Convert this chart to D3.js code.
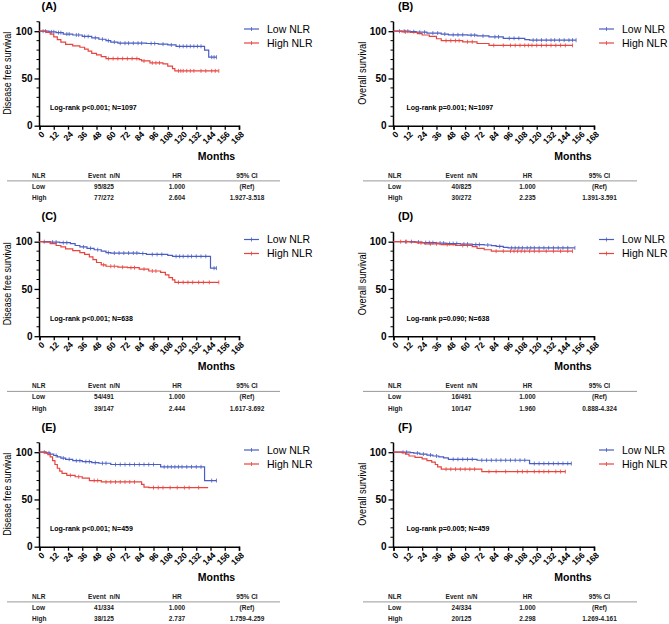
<!DOCTYPE html>
<html><head><meta charset="utf-8">
<script src="https://cdn.jsdelivr.net/npm/d3@7"></script>
<style>body{margin:0;background:#fff}svg{display:block}text{font-family:"Liberation Sans",Arial,sans-serif}</style>
</head><body><svg id="c" width="669" height="624"></svg>
<script>
// ---------- data ----------
const monthTicks = [0,12,24,36,48,60,72,84,96,108,120,132,144,156,168];
const yTicks = [0,50,100];
const seriesNames = ["Low NLR","High NLR"];
const panelLabels = ["(A)","(B)","(C)","(D)","(E)","(F)"];
const yTitles = ["Disease free survival","Overall survival","Disease free survival","Overall survival","Disease free survival","Overall survival"];
const logRank = ["Log-rank p<0.001; N=1097","Log-rank p=0.001; N=1097","Log-rank p<0.001; N=638","Log-rank p=0.090; N=638","Log-rank p<0.001; N=459","Log-rank p=0.005; N=459"];
const tableHeader = ["NLR","Event  n/N","HR","95% CI"];
const tableA = [["Low","95/825","1.000","(Ref)"],["High","77/272","2.604","1.927-3.518"]];
const tableB = [["Low","40/825","1.000","(Ref)"],["High","30/272","2.235","1.391-3.591"]];
const tableC = [["Low","54/491","1.000","(Ref)"],["High","39/147","2.444","1.617-3.692"]];
const tableD = [["Low","16/491","1.000","(Ref)"],["High","10/147","1.960","0.888-4.324"]];
const tableE = [["Low","41/334","1.000","(Ref)"],["High","38/125","2.737","1.759-4.259"]];
const tableF = [["Low","24/334","1.000","(Ref)"],["High","20/125","2.298","1.269-4.161"]];

// step curves: event times (months) and survival (%) after each step, plus end time and censor times
const lowA_t = [0,8,14,20,28,36,44,50,56,60,66,90,100,108,115,139,142.5];
const lowA_s = [100,99.3,98.5,97,96,94.5,93,91.5,90,88.5,87.3,87,86.3,85.5,84,80,72.5];
const lowA_end = 149;
const lowA_c = [3,5,10,12,16,18,23,25,31,33,38,41,47,53,58,63,68,72,75,79,83,86,94,97,104,111,118,121,124,127,130,133,136,145,147,149];
const highA_t = [0,6,9,12,15,18,22,28,34,38,41,44,48,52,56,84,86,93,104,108,112,114];
const highA_s = [100,98.6,97,94,91,88.5,86,84.5,83,81,79,76.5,75,73,71,70,68.5,66.5,65.5,63,60.5,58];
const highA_end = 151;
const highA_c = [58,62,66,70,74,78,82,88,95,98,101,117,119,121,124,127,130,136,140,145,148,151];

const lowB_t = [0,14,19,28,40,46,62,70,80,92,110,114];
const lowB_s = [100,99.5,99,98,97,96.2,95.8,95,94,92.5,91,90.5];
const lowB_end = 153;
const lowB_c = [5,9,12,17,22,26,33,37,43,50,54,58,65,68,75,85,88,97,101,105,117,120,124,128,132,135,139,143,147,150,153];
const highB_t = [0,7,14,20,24,30,36,40,58,70,80];
const highB_s = [100,99.3,98.6,97.5,96,94.5,92,90,88.8,87,85];
const highB_end = 150;
const highB_c = [10,44,48,52,55,62,66,84,92,98,102,106,110,113,116,120,124,128,132,136,140,144,150];

const lowC_t = [0,9,17,26,30,34,40,46,52,56,60,84,90,108,112,144];
const lowC_s = [100,99.6,99,98,96,94.5,93,91.5,90,88.5,88,87.5,86.5,85.5,84.5,72];
const lowC_end = 149;
const lowC_c = [4,11,14,20,23,37,43,49,58,63,67,71,75,79,82,87,95,99,103,115,118,121,125,128,132,136,140,147,149];
const highC_t = [0,3,9,14,18,22,28,34,38,42,45,48,52,56,66,74,84,92,102,106,109,112,114];
const highC_s = [100,99.5,98,96,94.5,92.5,90.5,88.5,86.5,84,81,78,75.5,74,73,72.5,71,69,67.5,65,62,59.5,57];
const highC_end = 151;
const highC_c = [54,60,63,70,77,80,88,95,98,117,121,125,129,134,138,143,151];

const lowD_t = [0,18,24,36,44,56,66,76,82,86,92,96];
const lowD_s = [100,99.6,99,98.5,98,97.5,97,96.5,95.8,95,94,93.5];
const lowD_end = 152;
const lowD_c = [10,15,21,27,30,33,39,42,47,50,53,59,62,69,72,79,89,99,102,105,108,112,115,118,122,126,130,134,138,142,146,152];
const highD_t = [0,14,20,26,40,52,66,70,76,82];
const highD_s = [100,99.5,98.8,97.8,97,96,94.8,93,91.5,90];
const highD_end = 150;
const highD_c = [6,11,23,31,36,45,58,62,86,92,98,101,104,107,110,114,118,122,128,134,140,146,150];

const lowE_t = [0,6,9,12,15,18,22,28,36,44,50,60,102,139];
const lowE_s = [100,99.3,98,96.5,95,93.8,92.5,91,90,89,88.3,87,84.5,70];
const lowE_end = 149;
const lowE_c = [4,8,14,20,25,31,34,39,42,47,53,56,64,68,72,76,80,84,88,92,96,105,108,111,114,117,120,124,128,132,136,145,149];
const highE_t = [0,5,7,9,11,13,15,17,19,23,30,36,42,52,86,88,92];
const highE_s = [100,99,97.5,95,91,87,83,80,77.5,75.5,74,72.5,70,68.5,66,63,62.5];
const highE_end = 142;
const highE_c = [26,33,46,49,56,60,64,68,72,76,80,96,100,104,110,116,122,126,134];

const lowF_t = [0,14,17,22,28,33,38,42,46,70,114];
const lowF_s = [100,99.5,99,98,97,96,95,94,92.5,91.5,88];
const lowF_end = 149;
const lowF_c = [8,11,20,25,31,36,50,54,58,62,66,74,78,82,86,90,94,98,102,106,110,118,122,126,130,134,138,142,146,149];
const highF_t = [0,7,10,13,18,24,28,32,35,37,40,74];
const highF_s = [100,99.5,98,96,94.5,93,91,89.5,87,84.5,82,79.5];
const highF_end = 144;
const highF_c = [44,48,52,56,60,64,68,80,86,94,104,108,112,118,122,126,130,136,140,144];

// ---------- layout ----------
const colX = [[39.5,239],[393.5,594]];
const rowY0 = [125.7,336.2,546.7];
const plotH100 = 94.5;
const cols = [
  {nlr:32, ev:104, hr:177, ci:247, l1:7, l2:280, ytitle:7.5, label:41.5, lr:50, months:216.5},
  {nlr:388, ev:461.5, hr:527.5, ci:599.5, l1:363, l2:637, ytitle:362, label:398, lr:406.5, months:573}
];
const BLUE = "#4a5dc4", RED = "#e8443e";

const panels = [
  {low:[lowA_t,lowA_s,lowA_end,lowA_c], high:[highA_t,highA_s,highA_end,highA_c], table:tableA},
  {low:[lowB_t,lowB_s,lowB_end,lowB_c], high:[highB_t,highB_s,highB_end,highB_c], table:tableB},
  {low:[lowC_t,lowC_s,lowC_end,lowC_c], high:[highC_t,highC_s,highC_end,highC_c], table:tableC},
  {low:[lowD_t,lowD_s,lowD_end,lowD_c], high:[highD_t,highD_s,highD_end,highD_c], table:tableD},
  {low:[lowE_t,lowE_s,lowE_end,lowE_c], high:[highE_t,highE_s,highE_end,highE_c], table:tableE},
  {low:[lowF_t,lowF_s,lowF_end,lowF_c], high:[highF_t,highF_s,highF_end,highF_c], table:tableF}
];

const svg = d3.select("#c");
svg.append("rect").attr("width",669).attr("height",624).attr("fill","#fff");

function stepVal(t, times, surv){
  let v = surv[0];
  for(let i=0;i<times.length;i++){ if(times[i] <= t) v = surv[i]; }
  return v;
}

panels.forEach((p, idx) => {
  const ci = idx % 2, ri = Math.floor(idx/2);
  const c = cols[ci];
  const y0 = rowY0[ri];
  const x = d3.scaleLinear().domain([0,168]).range(colX[ci]);
  const y = d3.scaleLinear().domain([0,100]).range([y0, y0 - plotH100]);
  const g = svg.append("g");

  // y axis
  const yAx = g.append("g").attr("transform",`translate(${colX[ci][0]},0)`)
    .call(d3.axisLeft(y).tickValues(yTicks).tickSize(5).tickPadding(2).tickFormat(d3.format("d")));
  yAx.select(".domain").remove();
  yAx.selectAll("line").attr("stroke","#000").attr("stroke-width",1.3);
  yAx.selectAll("text").attr("font-size","10px").attr("font-weight","bold").attr("fill","#000")
    .attr("font-family",'"Liberation Sans",Arial,sans-serif');
  const minor = d3.range(10,111,10).filter(v=>v%50!==0);
  g.selectAll(".ymin").data(minor).enter().append("line")
    .attr("x1",colX[ci][0]-3).attr("x2",colX[ci][0])
    .attr("y1",d=>y(d)).attr("y2",d=>y(d)).attr("stroke","#000").attr("stroke-width",1);
  g.append("line").attr("x1",colX[ci][0]).attr("x2",colX[ci][0])
    .attr("y1",y(0)+0.7).attr("y2",y(110)).attr("stroke","#000").attr("stroke-width",1.5);

  // x axis
  const xAx = g.append("g").attr("transform",`translate(0,${y0})`)
    .call(d3.axisBottom(x).tickValues(monthTicks).tickSize(4).tickFormat(d3.format("d")));
  xAx.select(".domain").attr("stroke","#000").attr("stroke-width",1.5);
  xAx.selectAll("line").attr("stroke","#000").attr("stroke-width",1.3);
  xAx.selectAll("text").attr("font-size","8.5px").attr("font-weight","bold").attr("fill","#000")
    .attr("font-family",'"Liberation Sans",Arial,sans-serif')
    .attr("text-anchor","end").attr("dy","0.35em").attr("y",0)
    .attr("transform","translate(3,7) rotate(-45)");

  // titles
  g.append("text").attr("transform",`translate(${c.ytitle},${y0-52.5}) rotate(-90)`)
    .attr("text-anchor","middle").attr("dy","0.35em").attr("font-size","10px")
    .attr("textLength", ci===0 ? 83 : 63).attr("lengthAdjust","spacingAndGlyphs")
    .text(yTitles[idx]);
  g.append("text").attr("x",c.label).attr("y",y0-116.2).attr("font-size","11px").attr("font-weight","bold").text(panelLabels[idx]);
  g.append("text").attr("x",c.months).attr("y",y0+33.8).attr("text-anchor","middle")
    .attr("font-size","10.5px").attr("font-weight","bold").text("Months");
  g.append("text").attr("x",c.lr).attr("y",y0-15.5).attr("font-size","7px").attr("font-weight","bold").text(logRank[idx]);

  // curves
  [[p.low,BLUE],[p.high,RED]].forEach(([ser,col]) => {
    const [tt, ss, end, cens] = ser;
    const pts = tt.map((t,i)=>[t,ss[i]]).concat([[end, ss[ss.length-1]]]);
    g.append("path").attr("d", d3.line().x(d=>x(d[0])).y(d=>y(d[1])).curve(d3.curveStepAfter)(pts))
      .attr("fill","none").attr("stroke",col).attr("stroke-width",1.2);
    g.selectAll(null).data(cens).enter().append("line")
      .attr("x1",d=>x(d)).attr("x2",d=>x(d))
      .attr("y1",d=>y(stepVal(d,tt,ss))-2).attr("y2",d=>y(stepVal(d,tt,ss))+2)
      .attr("stroke",col).attr("stroke-width",0.8);
  });

  // legend
  seriesNames.forEach((nm,i) => {
    const ly = y0 - 96.7 + i*14;
    const lx = colX[ci][1];
    const col = i===0?BLUE:RED;
    g.append("line").attr("x1",lx+5).attr("x2",lx+20).attr("y1",ly).attr("y2",ly).attr("stroke",col).attr("stroke-width",1.2);
    g.append("line").attr("x1",lx+12.5).attr("x2",lx+12.5).attr("y1",ly-2).attr("y2",ly+2).attr("stroke",col).attr("stroke-width",0.8);
    g.append("text").attr("x",lx+28).attr("y",ly).attr("dy","0.35em").attr("font-size","10.5px").text(nm);
  });

  // table
  const colPos = [c.nlr, c.ev, c.hr, c.ci];
  const anchors = ["start","middle","middle","middle"];
  const tg = g.append("g").attr("font-size","6.5px").attr("font-weight","bold").attr("fill","#222");
  tableHeader.forEach((h,j)=>{
    tg.append("text").attr("x",colPos[j]).attr("y",y0+52).attr("text-anchor",anchors[j]).attr("xml:space","preserve").text(h);
  });
  g.append("line").attr("x1",c.l1).attr("x2",c.l2).attr("y1",y0+55.2).attr("y2",y0+55.2).attr("stroke","#999").attr("stroke-width",1);
  p.table.forEach((row,r)=>{
    row.forEach((v,j)=>{
      tg.append("text").attr("x",colPos[j]).attr("y",y0+63+r*11.3).attr("text-anchor",anchors[j]).text(v);
    });
  });
});
</script></body></html>
